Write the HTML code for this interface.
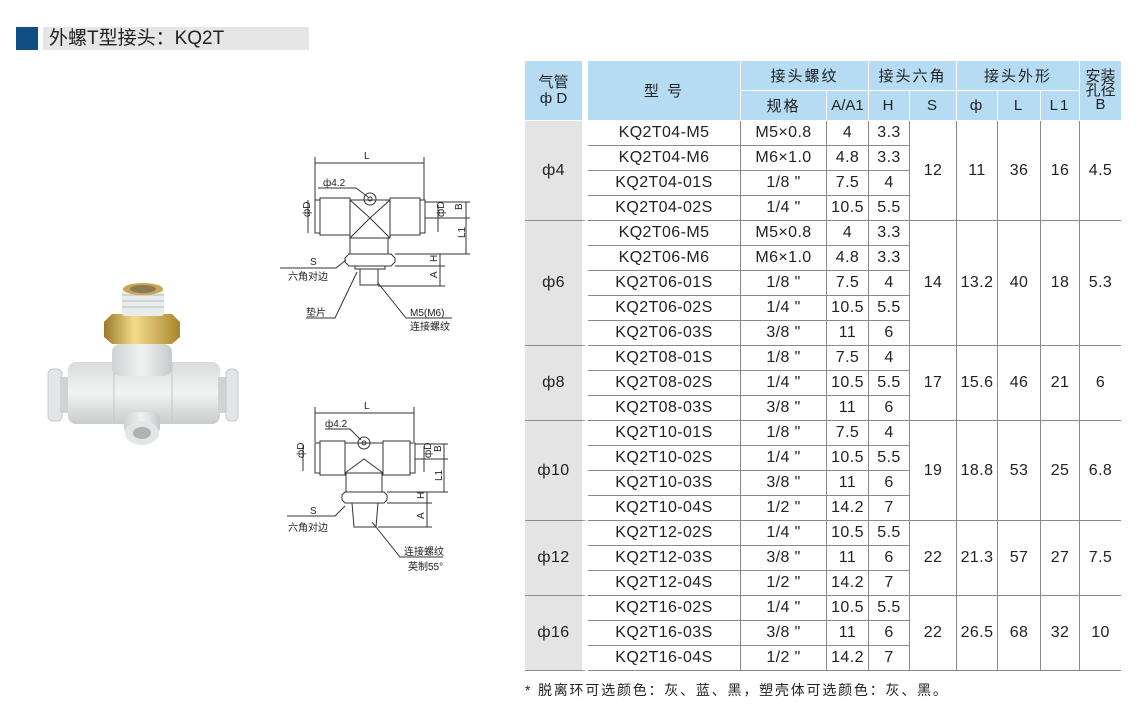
<!DOCTYPE html>
<html><head><meta charset="utf-8">
<style>
body{margin:0;background:#fff;width:1140px;height:711px;position:relative;overflow:hidden;font-family:"Liberation Sans","Noto Sans CJK SC",sans-serif;color:#222}
.title{position:absolute;left:43px;top:27px;width:266px;height:23px;background:#e6e6e6}
.sq{position:absolute;left:16px;top:27px;width:22px;height:23px;background:#124e86}
.title span{position:absolute;left:6px;top:0;font-size:19px;line-height:23px;color:#222}
table{position:absolute;left:525px;top:61px;border-collapse:separate;border-spacing:0;table-layout:fixed;font-size:16px;letter-spacing:0.4px;text-align:center}
td{padding:0;height:24px;border-bottom:1px solid #8a8a8a;border-right:1px solid #8a8a8a;white-space:nowrap;overflow:hidden}
thead td{background:#b5dcf2;border-bottom:1px solid #fff;border-right:1px solid #fff;height:29px;font-size:15px;letter-spacing:2px;color:#222}
td.c1{background:#e4e4e4;border-right:6px solid #fff;border-bottom:1px solid #8a8a8a}
thead td.c1{background:#b5dcf2;border-bottom:1px solid #fff}
td.last{border-right:none}
.note{position:absolute;left:525px;top:680px;font-size:14px;letter-spacing:1.8px}
svg text{font-family:"Liberation Sans","Noto Sans CJK SC",sans-serif;fill:#222}
</style></head><body>
<div class="sq"></div><div class="title"><span>外螺T型接头：KQ2T</span></div>

<svg width="1140" height="711" style="position:absolute;left:0;top:0">
<defs>
<linearGradient id="wg" x1="0" y1="0" x2="0" y2="1"><stop offset="0" stop-color="#d9dcdc"/><stop offset="0.5" stop-color="#f2f3f3"/><stop offset="1" stop-color="#c8cccc"/></linearGradient>
<linearGradient id="bg" x1="0" y1="0" x2="1" y2="0"><stop offset="0" stop-color="#9a7a2a"/><stop offset="0.4" stop-color="#f3dc8a"/><stop offset="1" stop-color="#a8852e"/></linearGradient>
<linearGradient id="vg" x1="0" y1="0" x2="1" y2="0"><stop offset="0" stop-color="#cfd3d3"/><stop offset="0.5" stop-color="#f1f2f2"/><stop offset="1" stop-color="#c6caca"/></linearGradient>
</defs>
<!-- photo -->
<rect x="48" y="369" width="14" height="52" rx="5" fill="#e3e6e6" stroke="#c4c8c8"/>
<rect x="60" y="377" width="10" height="36" fill="#cfd3d3"/>
<rect x="68" y="362" width="152" height="62" rx="8" fill="url(#wg)"/>
<rect x="218" y="377" width="10" height="36" fill="#cfd3d3"/>
<rect x="226" y="369" width="12" height="52" rx="5" fill="#e3e6e6" stroke="#c4c8c8"/>
<line x1="114" y1="364" x2="114" y2="423" stroke="#c2c6c6"/><line x1="172" y1="364" x2="172" y2="423" stroke="#c2c6c6"/>
<rect x="112" y="344" width="60" height="32" rx="8" fill="url(#vg)"/>
<path d="M104 322 L112 314 L172 314 L180 322 L180 337 L172 344 L112 344 L104 337Z" fill="url(#bg)"/>
<rect x="122" y="288" width="42" height="28" rx="3" fill="#e8ecec"/>
<g stroke="#b9bcbc"><line x1="122" y1="295" x2="164" y2="295"/><line x1="122" y1="301" x2="164" y2="301"/><line x1="122" y1="307" x2="164" y2="307"/></g>
<ellipse cx="143" cy="289" rx="20" ry="6" fill="#c9a650"/><ellipse cx="143" cy="289" rx="13" ry="4" fill="#8c7a55"/>
<rect x="124" y="412" width="36" height="22" rx="6" fill="url(#vg)"/>
<ellipse cx="142" cy="433" rx="17" ry="12" fill="#e3e6e6"/><ellipse cx="142" cy="433" rx="9" ry="6" fill="#aeb2b2"/>

<!-- drawing 1 -->
<g stroke="#333" stroke-width="1" fill="none">
<line x1="315" y1="157" x2="315" y2="200"/><line x1="424" y1="157" x2="424" y2="200"/>
<line x1="315" y1="163" x2="424" y2="163"/>
<rect x="315" y="200" width="5" height="33"/><rect x="320" y="198" width="30" height="37"/>
<rect x="350" y="200" width="40" height="38"/><rect x="390" y="198" width="30" height="37"/><rect x="420" y="200" width="5" height="33"/>
<path d="M350 200 L370 218 L390 200"/><path d="M350 238 L370 218 L390 238"/>
<circle cx="370" cy="199" r="6"/><circle cx="370" cy="199" r="2"/>
<rect x="350" y="238" width="38" height="16"/>
<path d="M345 258 L349 254 L391 254 L395 258 L395 262 L391 266 L349 266 L345 262Z"/>
<rect x="355" y="266" width="30" height="3"/>
<rect x="360" y="269" width="18" height="16"/>
<line x1="308" y1="200" x2="308" y2="233"/><line x1="425" y1="202" x2="470" y2="202"/><line x1="425" y1="218" x2="470" y2="218"/>
<line x1="466" y1="202" x2="466" y2="254"/><line x1="395" y1="254" x2="470" y2="254"/>
<line x1="440" y1="254" x2="440" y2="286"/><line x1="395" y1="266" x2="445" y2="266"/><line x1="378" y1="286" x2="445" y2="286"/>
<line x1="438" y1="205" x2="438" y2="232"/>
<polyline points="318,188 356,188 368,197"/>
<polyline points="280,268 336,268 346,260"/>
<polyline points="306,318 335,318 357,272"/>
<polyline points="452,318 406,318 378,283"/>
</g>
<g font-size="10">
<text x="364" y="159">L</text><text x="323" y="186">ф4.2</text>
<text x="306" y="221" transform="rotate(-90 306 217)">фD</text>
<text x="440" y="221" transform="rotate(-90 440 217)">фD</text>
<text x="458" y="214" transform="rotate(-90 458 210)">B</text>
<text x="457" y="238" transform="rotate(-90 461 234)">L1</text>
<text x="432" y="263" transform="rotate(-90 434 260)">H</text>
<text x="432" y="279" transform="rotate(-90 434 276)">A</text>
<text x="310" y="265">S</text><text x="288" y="280">六角对边</text>
<text x="306" y="316">垫片</text><text x="410" y="316">M5(M6)</text><text x="410" y="330">连接螺纹</text>
</g>

<!-- drawing 2 -->
<g stroke="#333" stroke-width="1" fill="none">
<line x1="315" y1="407" x2="315" y2="442"/><line x1="414" y1="407" x2="414" y2="442"/>
<line x1="315" y1="413" x2="414" y2="413"/>
<rect x="315" y="443" width="5" height="30"/><rect x="320" y="441" width="25" height="34"/>
<rect x="345" y="443" width="38" height="30"/><rect x="383" y="441" width="27" height="34"/><rect x="410" y="443" width="5" height="30"/>
<path d="M345 473 L364 459 L383 473"/>
<circle cx="364" cy="443" r="6"/><circle cx="364" cy="443" r="2"/>
<rect x="346" y="473" width="36" height="19"/>
<path d="M342 495 L345 492 L384 492 L387 495 L387 500 L384 503 L345 503 L342 500Z"/>
<path d="M352 503 L378 503 L376 527 L354 527Z"/>
<line x1="303" y1="445" x2="303" y2="471"/>
<line x1="415" y1="444" x2="448" y2="444"/><line x1="415" y1="459" x2="448" y2="459"/>
<line x1="444" y1="444" x2="444" y2="492"/><line x1="387" y1="492" x2="448" y2="492"/>
<line x1="427" y1="492" x2="427" y2="527"/><line x1="387" y1="503" x2="432" y2="503"/><line x1="378" y1="527" x2="432" y2="527"/>
<line x1="424" y1="446" x2="424" y2="472"/>
<polyline points="325,429 350,429 361,440"/>
<polyline points="287,516 335,516 345,506"/>
<polyline points="443,557 400,557 372,522"/>
</g>
<g font-size="10">
<text x="364" y="409">L</text><text x="325" y="427">ф4.2</text>
<text x="300" y="462" transform="rotate(-90 300 458)">фD</text>
<text x="427" y="462" transform="rotate(-90 427 458)">фD</text>
<text x="437" y="452" transform="rotate(-90 439 450)">B</text>
<text x="436" y="481" transform="rotate(-90 439 478)">L1</text>
<text x="419" y="500" transform="rotate(-90 421 497)">H</text>
<text x="419" y="520" transform="rotate(-90 421 517)">A</text>
<text x="310" y="514">S</text><text x="288" y="531">六角对边</text>
<text x="404" y="555">连接螺纹</text><text x="408" y="570">英制55°</text>
</g>
</svg>

<table>
<colgroup><col style="width:63px"><col style="width:153px"><col style="width:86px"><col style="width:42px"><col style="width:41px"><col style="width:47px"><col style="width:41px"><col style="width:43px"><col style="width:39px"><col style="width:41px"></colgroup>
<thead>
<tr><td class="c1" rowspan="2" style="line-height:16px;letter-spacing:0">气管<br>ф D</td><td rowspan="2">型 号</td><td colspan="2">接头螺纹</td><td colspan="2">接头六角</td><td colspan="3">接头外形</td><td class="last" rowspan="2" style="line-height:14px;letter-spacing:0">安装<br>孔径<br>B</td></tr>
<tr><td>规格</td><td style="letter-spacing:0">A/A1</td><td>H</td><td>S</td><td>ф</td><td>L</td><td>L1</td></tr>
</thead>
<tbody>
<tr><td class="c1" rowspan="4">ф4</td><td>KQ2T04-M5</td><td>M5×0.8</td><td>4</td><td>3.3</td><td rowspan="4">12</td><td rowspan="4">11</td><td rowspan="4">36</td><td rowspan="4">16</td><td class="last" rowspan="4">4.5</td></tr>
<tr><td>KQ2T04-M6</td><td>M6×1.0</td><td>4.8</td><td>3.3</td></tr>
<tr><td>KQ2T04-01S</td><td>1/8 "</td><td>7.5</td><td>4</td></tr>
<tr><td>KQ2T04-02S</td><td>1/4 "</td><td>10.5</td><td>5.5</td></tr>
<tr><td class="c1" rowspan="5">ф6</td><td>KQ2T06-M5</td><td>M5×0.8</td><td>4</td><td>3.3</td><td rowspan="5">14</td><td rowspan="5">13.2</td><td rowspan="5">40</td><td rowspan="5">18</td><td class="last" rowspan="5">5.3</td></tr>
<tr><td>KQ2T06-M6</td><td>M6×1.0</td><td>4.8</td><td>3.3</td></tr>
<tr><td>KQ2T06-01S</td><td>1/8 "</td><td>7.5</td><td>4</td></tr>
<tr><td>KQ2T06-02S</td><td>1/4 "</td><td>10.5</td><td>5.5</td></tr>
<tr><td>KQ2T06-03S</td><td>3/8 "</td><td>11</td><td>6</td></tr>
<tr><td class="c1" rowspan="3">ф8</td><td>KQ2T08-01S</td><td>1/8 "</td><td>7.5</td><td>4</td><td rowspan="3">17</td><td rowspan="3">15.6</td><td rowspan="3">46</td><td rowspan="3">21</td><td class="last" rowspan="3">6</td></tr>
<tr><td>KQ2T08-02S</td><td>1/4 "</td><td>10.5</td><td>5.5</td></tr>
<tr><td>KQ2T08-03S</td><td>3/8 "</td><td>11</td><td>6</td></tr>
<tr><td class="c1" rowspan="4">ф10</td><td>KQ2T10-01S</td><td>1/8 "</td><td>7.5</td><td>4</td><td rowspan="4">19</td><td rowspan="4">18.8</td><td rowspan="4">53</td><td rowspan="4">25</td><td class="last" rowspan="4">6.8</td></tr>
<tr><td>KQ2T10-02S</td><td>1/4 "</td><td>10.5</td><td>5.5</td></tr>
<tr><td>KQ2T10-03S</td><td>3/8 "</td><td>11</td><td>6</td></tr>
<tr><td>KQ2T10-04S</td><td>1/2 "</td><td>14.2</td><td>7</td></tr>
<tr><td class="c1" rowspan="3">ф12</td><td>KQ2T12-02S</td><td>1/4 "</td><td>10.5</td><td>5.5</td><td rowspan="3">22</td><td rowspan="3">21.3</td><td rowspan="3">57</td><td rowspan="3">27</td><td class="last" rowspan="3">7.5</td></tr>
<tr><td>KQ2T12-03S</td><td>3/8 "</td><td>11</td><td>6</td></tr>
<tr><td>KQ2T12-04S</td><td>1/2 "</td><td>14.2</td><td>7</td></tr>
<tr><td class="c1" rowspan="3">ф16</td><td>KQ2T16-02S</td><td>1/4 "</td><td>10.5</td><td>5.5</td><td rowspan="3">22</td><td rowspan="3">26.5</td><td rowspan="3">68</td><td rowspan="3">32</td><td class="last" rowspan="3">10</td></tr>
<tr><td>KQ2T16-03S</td><td>3/8 "</td><td>11</td><td>6</td></tr>
<tr><td>KQ2T16-04S</td><td>1/2 "</td><td>14.2</td><td>7</td></tr>
</tbody>
</table>
<div class="note">* 脱离环可选颜色：灰、蓝、黑，塑壳体可选颜色：灰、黑。</div>
</body></html>
